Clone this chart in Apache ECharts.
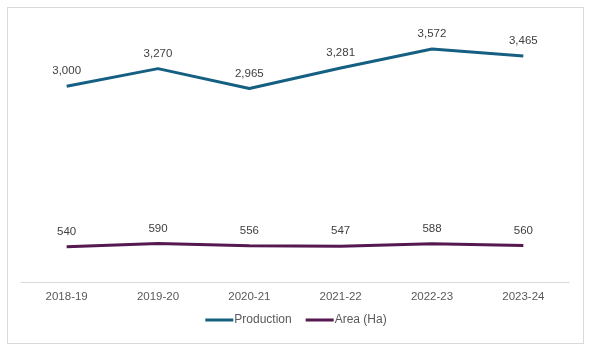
<!DOCTYPE html>
<html>
<head>
<meta charset="utf-8">
<script src="https://cdn.jsdelivr.net/npm/echarts@6/dist/echarts.min.js"></script>
<style>
  html, body { margin: 0; padding: 0; background: #fff; }
  #frame { position: absolute; left: 7px; top: 7px; width: 575px; height: 335px; border: 1px solid #d9d9d9; }
  #main { position: absolute; left: 0; top: 0; width: 592px; height: 352px; }
</style>
</head>
<body>
<div id="frame"></div>
<div id="main"></div>
<script>
var years = ['2018-19', '2019-20', '2020-21', '2021-22', '2022-23', '2023-24'];
var production = [3000, 3270, 2965, 3281, 3572, 3465];
var area = [540, 590, 556, 547, 588, 560];

var myChart = echarts.init(document.getElementById('main'));
var fontFam = 'Liberation Sans, Arial, sans-serif';
var labelStyle = {
  show: true,
  position: 'top',
  distance: 9,
  color: '#404040',
  fontSize: 11.5,
  fontFamily: fontFam,
  formatter: function (p) { return p.value.toLocaleString('en-US'); }
};
var option = {
  animation: false,
  grid: { left: 21, right: 23, top: 21, bottom: 70, containLabel: false },
  legend: {
    bottom: 21,
    left: 'center',
    itemWidth: 28,
    itemHeight: 3,
    itemGap: 14,
    icon: 'rect',
    textStyle: { color: '#595959', fontSize: 12, fontFamily: fontFam, padding: [0, 0, 0, -4] },
    data: ['Production', 'Area (Ha)']
  },
  xAxis: {
    type: 'category',
    data: years,
    boundaryGap: true,
    axisLine: { lineStyle: { color: '#d9d9d9', width: 1 } },
    axisTick: { show: false },
    axisLabel: { color: '#595959', fontSize: 11.5, margin: 9, fontFamily: fontFam }
  },
  yAxis: {
    type: 'value',
    min: 0,
    max: 4000,
    show: false,
    splitLine: { show: false }
  },
  series: [
    {
      name: 'Production',
      type: 'line',
      data: production,
      symbol: 'circle',
      symbolSize: 0.1,
      lineStyle: { color: '#156082', width: 3 },
      itemStyle: { color: '#156082' },
      label: labelStyle
    },
    {
      name: 'Area (Ha)',
      type: 'line',
      data: area,
      symbol: 'circle',
      symbolSize: 0.1,
      lineStyle: { color: '#561850', width: 3 },
      itemStyle: { color: '#561850' },
      label: labelStyle
    }
  ]
};
myChart.setOption(option);
</script>
</body>
</html>
